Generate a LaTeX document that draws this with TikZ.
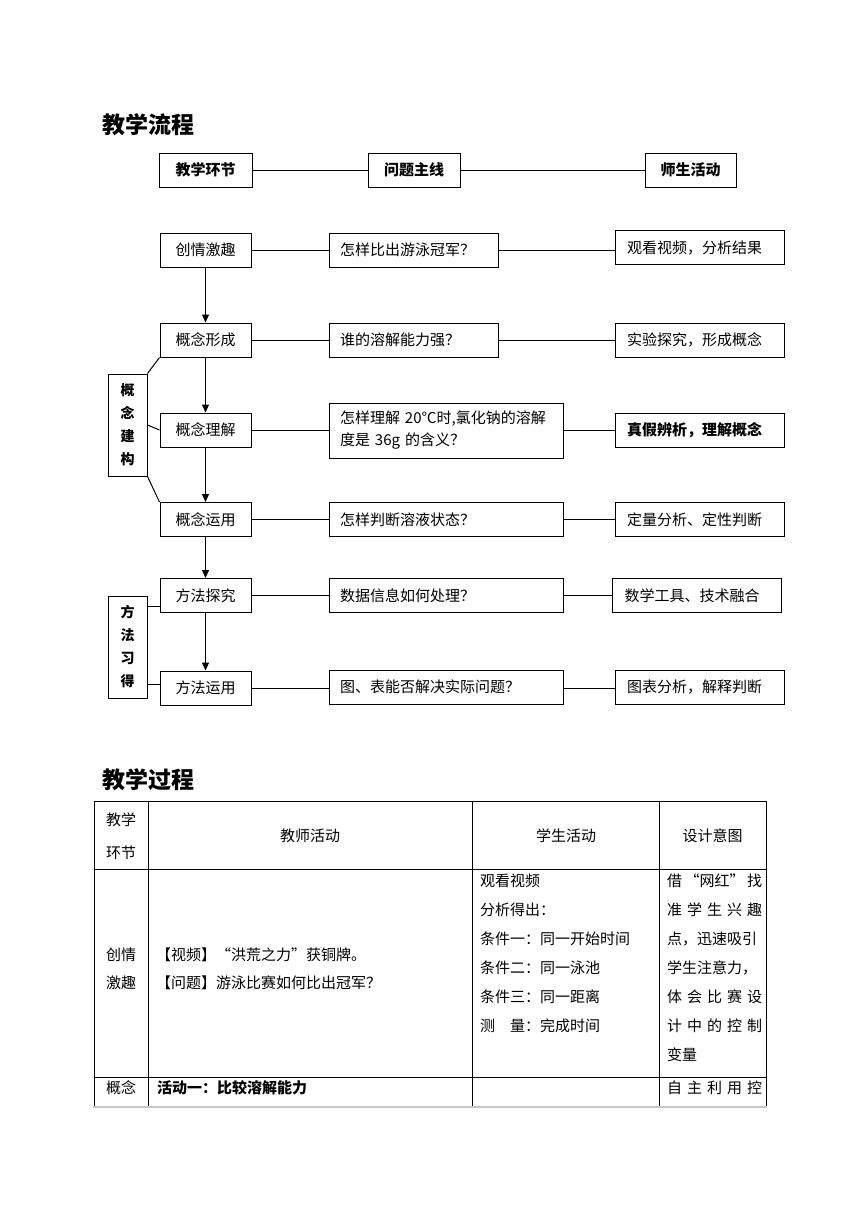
\documentclass[tikz,border=0pt]{standalone}
\usepackage{fontspec}
\setmainfont{Noto Sans CJK SC}
\usetikzlibrary{arrows.meta, calc}

\newcommand{\pxsize}[2]{\fontsize{#1}{#2}\selectfont}
\newcommand{\aimline}[1]{\makebox[95pt][s]{#1}}

\begin{document}
\begin{tikzpicture}[
  x=1pt, y=-1pt,
  line/.style={line width=1pt},
  arr/.style={-{Triangle[length=8pt, width=7pt]}, line width=1pt},
  hdr/.style={
    draw, line width=1pt,
    font=\pxsize{15}{18}\bfseries,
    minimum height=34pt, inner xsep=0pt, align=center
  },
  stagebox/.style={
    draw, line width=1pt, font=\pxsize{15}{18},
    minimum height=34pt, text width=69pt, inner xsep=11pt, align=center
  },
  qbox/.style={
    draw, line width=1pt, font=\pxsize{15}{22},
    minimum height=34pt, text width=147pt, inner xsep=11pt, align=left
  },
  actbox/.style={
    draw, line width=1pt, font=\pxsize{15}{18},
    minimum height=34pt, text width=145pt, inner xsep=12pt, align=left
  },
  sidebox/.style={
    draw, line width=1pt, font=\pxsize{14}{23}\bfseries,
    minimum width=39pt, minimum height=102pt, inner sep=0pt, align=center
  },
  ttl/.style={font=\pxsize{23}{28}\bfseries, inner sep=0pt},
  cell/.style={font=\pxsize{15}{18}, inner sep=0pt},
  tline/.style={line width=1pt}
]
\useasboundingbox (0,0) rectangle (860,1216);

%% coordinates are page pixels, y grows downwards
%% columns: stage x=205.5, question x=413.5 / 446, activity x=699.5

%% ─── FLOW TITLE AND HEADER ROW ──────────────────────────────────────────────
\node[ttl, anchor=west] (flow_title) at (102, 125) {教学流程};

\node[hdr, minimum width=93pt] (hdr_stage) at (205.5, 170) {教学环节};
\node[hdr, minimum width=92pt] (hdr_q) at (414, 170) {问题主线};
\node[hdr, minimum width=91pt] (hdr_act) at (690.5, 170) {师生活动};

\draw[line] (hdr_stage) -- (hdr_q);
\draw[line] (hdr_q) -- (hdr_act);

%% ─── STAGE COLUMN ───────────────────────────────────────────────────────────
\node[stagebox] (st1) at (205.5, 250) {创情激趣};
\node[stagebox] (st2) at (205.5, 340) {概念形成};
\node[stagebox] (st3) at (205.5, 430) {概念理解};
\node[stagebox] (st4) at (205.5, 519.5) {概念运用};
\node[stagebox] (st5) at (205.5, 595.5) {方法探究};
\node[stagebox] (st6) at (205.5, 688) {方法运用};

\foreach \i/\j in {1/2, 2/3, 3/4, 4/5, 5/6}
  \draw[arr] (st\i) -- (st\j);

%% ─── QUESTION COLUMN ────────────────────────────────────────────────────────
\node[qbox] (q1) at (413.5, 250) {怎样比出游泳冠军？};
\node[qbox] (q2) at (413.5, 340) {谁的溶解能力强？};
\node[qbox, text width=212pt, minimum height=55pt] (q3) at (446, 430.5)
  {怎样理解 20℃时,氯化钠的溶解\\度是 36g 的含义？};
\node[qbox, text width=212pt] (q4) at (446, 519.5) {怎样判断溶液状态？};
\node[qbox, text width=212pt] (q5) at (446, 595.5) {数据信息如何处理？};
\node[qbox, text width=212pt] (q6) at (446, 687) {图、表能否解决实际问题？};

%% ─── ACTIVITY COLUMN ────────────────────────────────────────────────────────
\node[actbox] (act1) at (699.5, 247.5) {观看视频，分析结果};
\node[actbox] (act2) at (699.5, 340) {实验探究，形成概念};
\node[actbox, font=\pxsize{15}{18}\bfseries] (act3) at (699.5, 430) {真假辨析，理解概念};
\node[actbox] (act4) at (699.5, 519.5) {定量分析、定性判断};
\node[actbox] (act5) at (697, 595.5) {数学工具、技术融合};
\node[actbox] (act6) at (699.5, 687) {图表分析，解释判断};

%% row links stay level with the stage box
\foreach \i in {1,...,6} {
  \draw[line] (st\i.east) -- (q\i.west |- st\i.east);
  \draw[line] (q\i.east |- st\i.east) -- (act\i.west |- st\i.east);
}

%% ─── SIDE GROUPS ────────────────────────────────────────────────────────────
\node[sidebox] (side_gn) at (127.5, 425) {概\\念\\建\\构};
\node[sidebox] (side_ff) at (127.5, 647) {方\\法\\习\\得};

\draw[line] (side_gn.north east) -- (st2.south west);
\draw[line] (side_gn.east) -- (st3.west);
\draw[line] (side_gn.south east) -- (st4.north west);

\draw[line] ([yshift=-11pt]side_ff.north east) -- ([yshift=-11pt]side_ff.north east -| st5.west);
\draw[line] ([yshift=14pt]side_ff.south east) -- ([yshift=14pt]side_ff.south east -| st6.west);

%% ─── PROCESS TABLE ──────────────────────────────────────────────────────────
\node[ttl, anchor=west] (proc_title) at (102, 780) {教学过程};

\draw[tline] (94,1107) -- (94,801) -- (766,801) -- (766,1107);
\draw[tline] (94,869) -- (766,869);
\draw[tline] (94,1077) -- (766,1077);
\foreach \x in {148, 472, 659}
  \draw[tline] (\x,801) -- (\x,1107);
\draw[gray!45, line width=2pt] (93,1107) -- (767,1107);

%% header row
\node[cell, align=center, font=\pxsize{15}{33}] (th_stage) at (121, 836.5) {教学\\环节};
\node[cell] (th_teach) at (310, 836) {教师活动};
\node[cell] (th_stu) at (566, 836) {学生活动};
\node[cell] (th_aim) at (712.5, 836) {设计意图};

%% first stage
\node[cell, align=center, font=\pxsize{15}{28}] (td_stage1) at (121, 969) {创情\\激趣};
\node[cell, anchor=west] (td_teach1a) at (156, 955) {【视频】“洪荒之力”获铜牌。};
\node[cell, anchor=west] (td_teach1b) at (156, 983) {【问题】游泳比赛如何比出冠军？};

\foreach \t [count=\i] in {观看视频, 分析得出：, 条件一：同一开始时间,
    条件二：同一泳池, 条件三：同一距离, {测\hspace{15pt}量：完成时间}}
  \node[cell, anchor=west] (td_stu\i) at (480, 852 + 29*\i) {\t};

\foreach \t [count=\i] in {{\aimline{借\hfill “网红”\hfill 找}},
    {\aimline{准\hfill 学\hfill 生\hfill 兴\hfill 趣}}, 点，迅速吸引, 学生注意力，,
    {\aimline{体\hfill 会\hfill 比\hfill 赛\hfill 设}},
    {\aimline{计\hfill 中\hfill 的\hfill 控\hfill 制}}, 变量}
  \node[cell, anchor=west] (td_aim\i) at (667, 852 + 29*\i) {\t};

%% second stage (cut by the page)
\node[cell] (td_stage2) at (121, 1088) {概念};
\node[cell, anchor=west, font=\pxsize{15}{18}\bfseries] (td_teach2) at (157, 1088) {活动一：比较溶解能力};
\node[cell, anchor=west] (td_aim2) at (667, 1088) {\aimline{自\hfill 主\hfill 利\hfill 用\hfill 控}};

\end{tikzpicture}
\end{document}
